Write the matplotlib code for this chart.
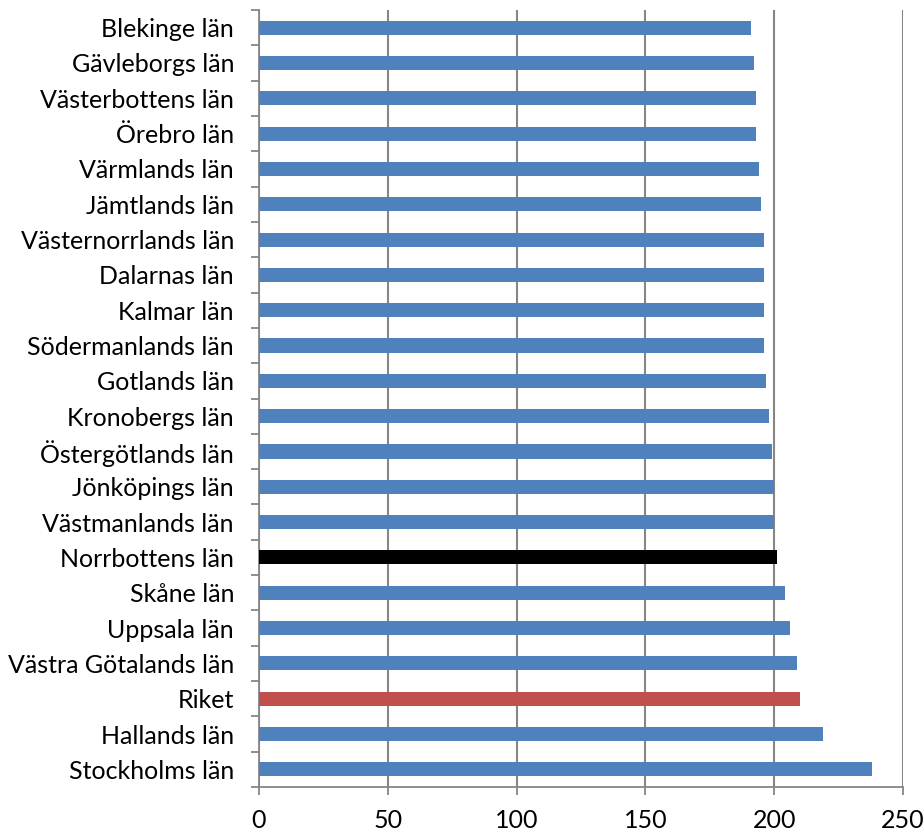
import numpy as np
import matplotlib
matplotlib.use("Agg")
from matplotlib import pyplot as plt

# Län, uppifrån och ned
lan = ["Blekinge län", "Gävleborgs län", "Västerbottens län", "Örebro län",
       "Värmlands län", "Jämtlands län", "Västernorrlands län", "Dalarnas län",
       "Kalmar län", "Södermanlands län", "Gotlands län", "Kronobergs län",
       "Östergötlands län", "Jönköpings län", "Västmanlands län", "Norrbottens län",
       "Skåne län", "Uppsala län", "Västra Götalands län", "Riket",
       "Hallands län", "Stockholms län"]
varden = [191, 192, 193, 193, 194, 195, 196, 196, 196, 196, 197, 198,
          199, 200, 200, 201, 204, 206, 209, 210, 219, 238]
x_ticks = [0, 50, 100, 150, 200, 250]

plt.rcParams['font.family'] = ['Lato', 'DejaVu Sans']

# färg per stapel: Norrbotten svart, Riket röd, övriga blå
farger = []
for namn in lan:
    if namn == "Norrbottens län":
        farger.append("#000000")
    elif namn == "Riket":
        farger.append("#C0504D")
    else:
        farger.append("#4F81BD")

fig = plt.figure(figsize=(9.23, 8.32), dpi=100)
ax = fig.add_axes([259/923, 1 - 787/832, 644/923, 777/832])

y = np.arange(len(lan))
ax.barh(y, varden, height=0.4, color=farger, zorder=3)

ax.set_ylim(len(lan) - 0.5, -0.5)
ax.set_xlim(0, 250)

ax.set_yticks(y)
ax.set_yticklabels(lan, fontsize=18)
ax.set_yticks(np.arange(len(lan) + 1) - 0.5, minor=True)
ax.tick_params(axis='y', which='major', length=0, pad=18)
ax.tick_params(axis='y', which='minor', length=6, width=1.3, color='#868686', direction='out')

ax.set_xticks(x_ticks)
ax.set_xticklabels([str(v) for v in x_ticks], fontsize=18)
ax.tick_params(axis='x', length=6, width=1.3, color='#868686', direction='out', pad=10)

ax.grid(axis='x', color='#868686', linewidth=1.5, zorder=0)
for s in ['top', 'right']:
    ax.spines[s].set_visible(False)
for s in ['left', 'bottom']:
    ax.spines[s].set_color('#868686')
    ax.spines[s].set_linewidth(1.3)

fig.savefig("out.png", dpi=100)
